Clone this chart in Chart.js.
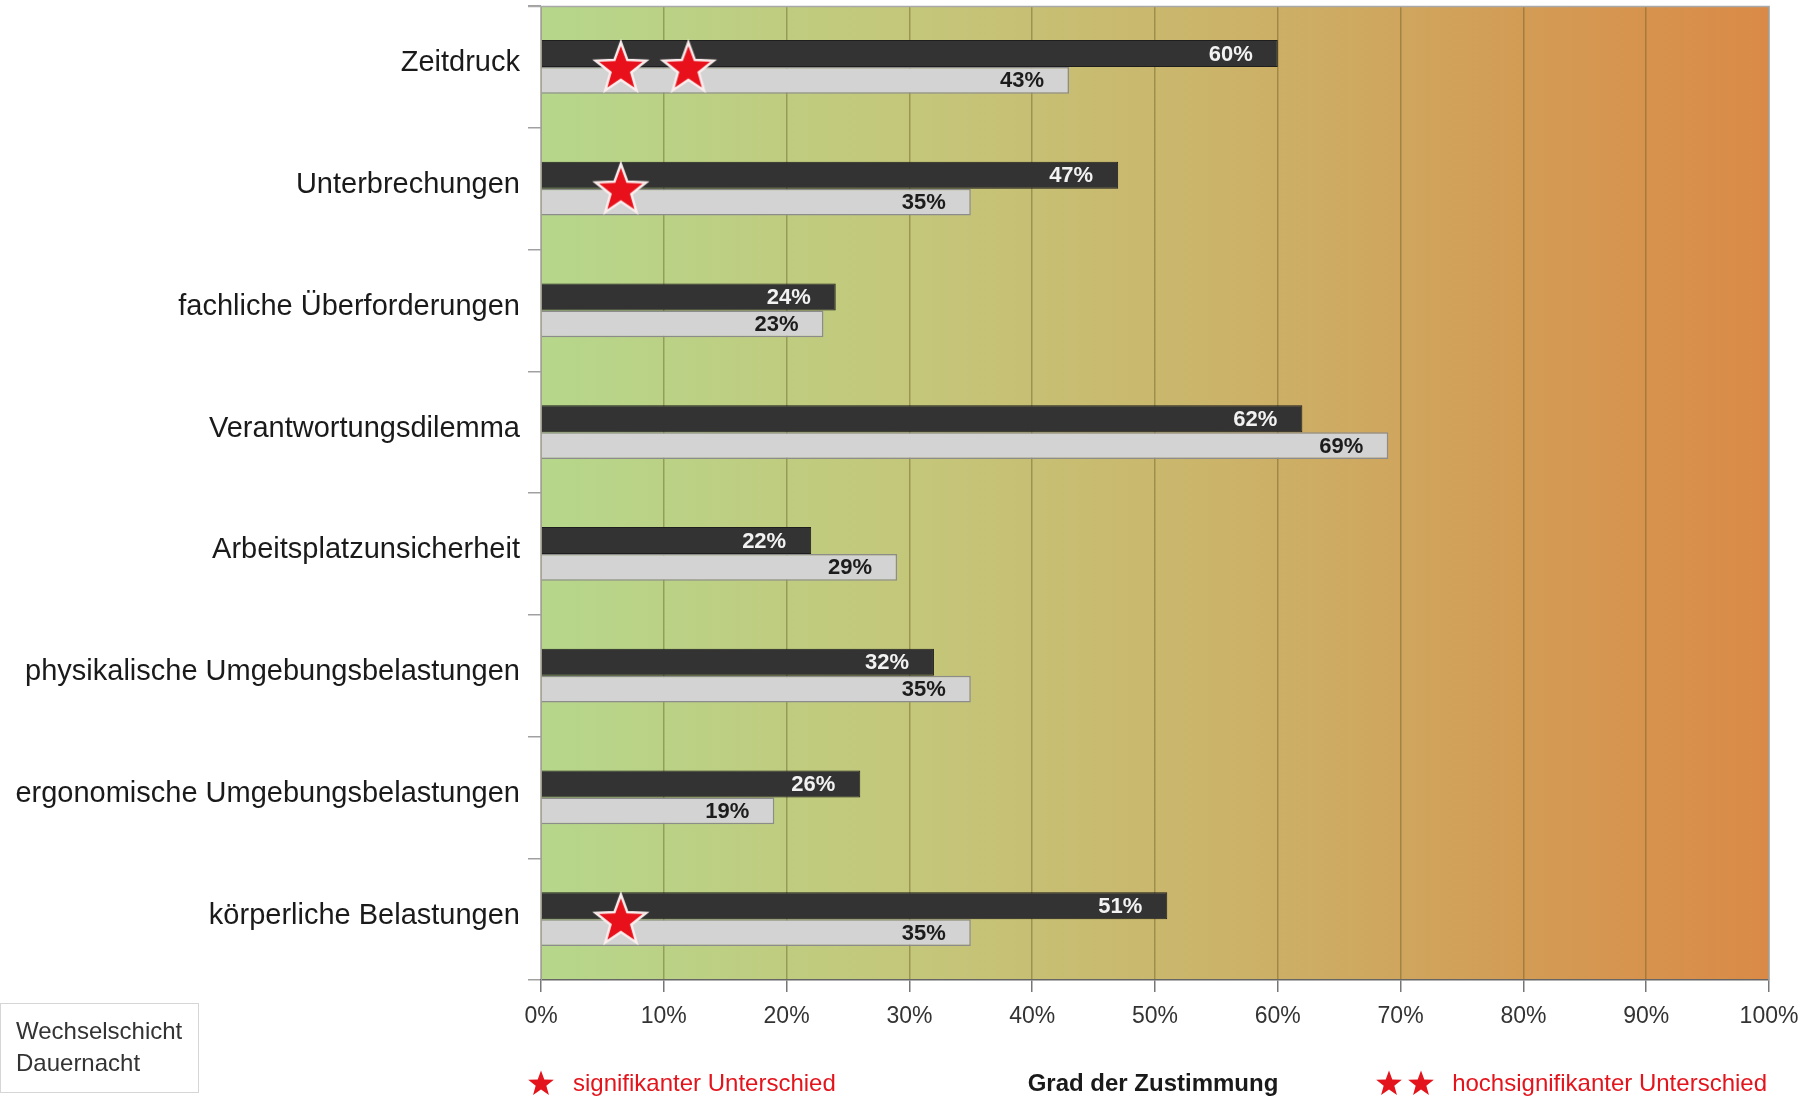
<!DOCTYPE html>
<html>
<head>
<meta charset="utf-8">
<script src="https://cdn.jsdelivr.net/npm/chart.js@4.4.1/dist/chart.umd.min.js"></script>
<style>
  html, body { margin: 0; padding: 0; background: #ffffff; }
  #wrap { width: 1804px; height: 1098px; position: relative; }
</style>
</head>
<body>
<div id="wrap"><canvas id="c" width="1804" height="1098"></canvas></div>
<script>
// ---- data ----
const categories = [
  'Zeitdruck',
  'Unterbrechungen',
  'fachliche Überforderungen',
  'Verantwortungsdilemma',
  'Arbeitsplatzunsicherheit',
  'physikalische Umgebungsbelastungen',
  'ergonomische Umgebungsbelastungen',
  'körperliche Belastungen'
];
const wechselschicht = [60, 47, 24, 62, 22, 32, 26, 51];
const dauernacht = [43, 35, 23, 69, 29, 35, 19, 35];
const seriesNames = ['Wechselschicht', 'Dauernacht'];
const starCategories = ['Zeitdruck', 'Zeitdruck', 'Unterbrechungen', 'körperliche Belastungen'];
const starPositions = [6.5, 12, 6.5, 6.5];
const xTickValues = [0, 10, 20, 30, 40, 50, 60, 70, 80, 90, 100];
const axisTitle = 'Grad der Zustimmung';
const legendSignificant = 'signifikanter Unterschied';
const legendHighlySignificant = 'hochsignifikanter Unterschied';

const FONT = '"Liberation Sans", Arial, Helvetica, sans-serif';

function starPath(ctx, cx, cy, R, r) {
  ctx.beginPath();
  for (let i = 0; i < 10; i++) {
    const rad = (i % 2 === 0) ? R : r;
    const a = -Math.PI / 2 + i * Math.PI / 5;
    const x = cx + rad * Math.cos(a);
    const y = cy + rad * Math.sin(a);
    if (i === 0) ctx.moveTo(x, y); else ctx.lineTo(x, y);
  }
  ctx.closePath();
}

// star image used as point style for the significance marks
const starImg = document.createElement('canvas');
starImg.width = 62; starImg.height = 62;
(function () {
  const g = starImg.getContext('2d');
  starPath(g, 31, 33, 26.5, 11);
  g.fillStyle = '#e8101a';
  g.fill();
  g.lineJoin = 'miter';
  g.lineWidth = 2.5;
  g.strokeStyle = '#fbeeee';
  g.stroke();
})();

const PLOT_LEFT = 541, PLOT_RIGHT = 1769, PLOT_TOP = 6, PLOT_BOTTOM = 980;

const decorPlugin = {
  id: 'decor',
  beforeDraw(chart) {
    const { ctx, chartArea: a } = chart;
    ctx.save();
    const g = ctx.createLinearGradient(a.left, 0, a.right, 0);
    g.addColorStop(0, '#b6d78b');
    g.addColorStop(0.3, '#c4c77a');
    g.addColorStop(0.55, '#cbb46a');
    g.addColorStop(0.8, '#d39c55');
    g.addColorStop(1, '#da8a47');
    ctx.fillStyle = g;
    ctx.fillRect(a.left, a.top, a.right - a.left, a.bottom - a.top);
    ctx.restore();
  },
  afterDatasetsDraw(chart) {
    const { ctx } = chart;
    const values = [wechselschicht, dauernacht];
    ctx.save();
    ctx.font = 'bold 22px ' + FONT;
    ctx.textAlign = 'right';
    ctx.textBaseline = 'middle';
    [0, 1].forEach(di => {
      const meta = chart.getDatasetMeta(di);
      meta.data.forEach((bar, i) => {
        ctx.fillStyle = di === 0 ? '#f2f2f2' : '#1c1c1c';
        ctx.fillText(values[di][i] + '%', bar.x - 25, bar.y + 1);
      });
    });
    ctx.restore();
  },
  afterDraw(chart) {
    const { ctx, chartArea: a } = chart;
    ctx.save();
    // top & right border of plot
    ctx.strokeStyle = '#a8a8a8';
    ctx.lineWidth = 1.5;
    ctx.beginPath();
    ctx.moveTo(a.left - 13, a.top + 0.5);
    ctx.lineTo(a.right, a.top + 0.5);
    ctx.lineTo(a.right, a.bottom);
    ctx.stroke();

    // legend box (bottom-left)
    ctx.strokeStyle = '#d6d6d6';
    ctx.lineWidth = 1;
    ctx.strokeRect(0.5, 1003.5, 198, 89);
    ctx.fillStyle = '#333333';
    ctx.font = '24px ' + FONT;
    ctx.textAlign = 'left';
    ctx.textBaseline = 'middle';
    ctx.fillText(seriesNames[0], 16, 1032);
    ctx.fillText(seriesNames[1], 16, 1064);

    // axis title
    ctx.font = 'bold 24px ' + FONT;
    ctx.textAlign = 'center';
    ctx.fillStyle = '#1a1a1a';
    ctx.fillText(axisTitle, (a.left + a.right) / 2 - 2, 1084);

    // significance legend
    const red = '#e3141c';
    ctx.fillStyle = red;
    starPath(ctx, 541, 1084, 13.5, 5.6); ctx.fill();
    starPath(ctx, 1389, 1084, 13.5, 5.6); ctx.fill();
    starPath(ctx, 1421, 1084, 13.5, 5.6); ctx.fill();
    ctx.font = '24px ' + FONT;
    ctx.textAlign = 'left';
    ctx.fillText(legendSignificant, 573, 1084);
    ctx.textAlign = 'right';
    ctx.fillText(legendHighlySignificant, 1767, 1084);
    ctx.restore();
  }
};

const starData = starCategories.map((c, i) => ({ x: starPositions[i], y: c }));

new Chart(document.getElementById('c'), {
  type: 'bar',
  data: {
    labels: categories,
    datasets: [
      {
        label: seriesNames[0],
        data: wechselschicht,
        backgroundColor: '#333333',
        borderColor: '#1e1e1e',
        borderWidth: 1,
        barPercentage: 1,
        categoryPercentage: 0.44
      },
      {
        label: seriesNames[1],
        data: dauernacht,
        backgroundColor: '#d3d3d3',
        borderColor: '#8c8c8c',
        borderWidth: 1.5,
        barPercentage: 1,
        categoryPercentage: 0.44
      },
      {
        type: 'line',
        label: 'Signifikanz',
        data: starData,
        showLine: false,
        pointStyle: starImg,
        pointRadius: 26,
        clip: false,
        order: -1
      }
    ]
  },
  options: {
    indexAxis: 'y',
    responsive: false,
    animation: false,
    devicePixelRatio: 1,
    layout: { autoPadding: false, padding: { left: 0, right: 1804 - PLOT_RIGHT, top: PLOT_TOP, bottom: 0 } },
    plugins: { legend: { display: false }, tooltip: { enabled: false } },
    scales: {
      x: {
        type: 'linear',
        min: 0,
        max: 100,
        afterBuildTicks(scale) { scale.ticks = xTickValues.map(v => ({ value: v })); },
        afterFit(scale) { scale.height = 1098 - PLOT_BOTTOM; scale.paddingLeft = 0; scale.paddingRight = 0; },
        ticks: {
          callback: v => v + '%',
          font: { family: FONT, size: 23 },
          color: '#333333',
          padding: 11,
          maxRotation: 0
        },
        grid: {
          color: 'rgba(95,85,30,0.42)',
          lineWidth: 1.5,
          tickLength: 12,
          tickColor: '#777777'
        },
        border: { display: true, color: '#666666', width: 1.5 }
      },
      y: {
        type: 'category',
        afterFit(scale) { scale.width = PLOT_LEFT; scale.paddingTop = 0; scale.paddingBottom = 0; },
        ticks: {
          font: { family: FONT, size: 29 },
          color: '#1a1a1a',
          padding: 8,
          labelOffset: -3.5,
          autoSkip: false
        },
        grid: {
          drawOnChartArea: false,
          offset: true,
          tickLength: 13,
          color: '#a0a0a0',
          lineWidth: 1.5
        },
        border: { display: true, color: '#a0a0a0', width: 1 }
      }
    }
  },
  plugins: [decorPlugin]
});
</script>
</body>
</html>
